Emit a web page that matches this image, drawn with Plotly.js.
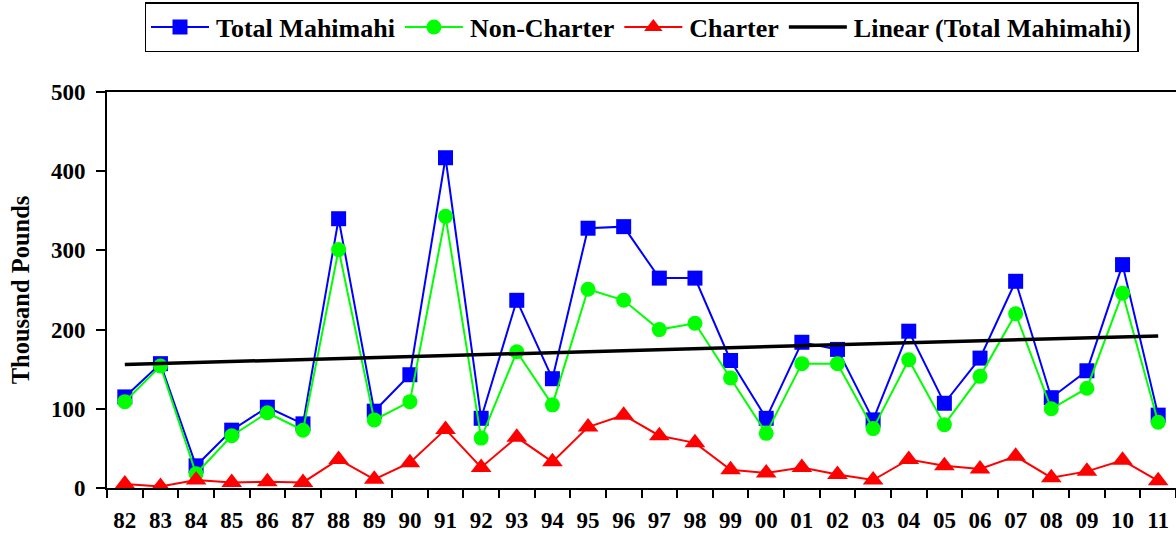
<!DOCTYPE html>
<html>
<head>
<meta charset="utf-8">
<script src="https://cdn.plot.ly/plotly-3.0.1.min.js"></script>
<style>html,body{margin:0;padding:0;background:#fff;}#chart{width:1176px;height:537px;}</style>
</head>
<body>
<div id="chart"></div>
<script>
const years = ["82","83","84","85","86","87","88","89","90","91","92","93","94","95","96","97","98","99","00","01","02","03","04","05","06","07","08","09","10","11"];
const totalMahimahi = [115,157,28,73,102,81,340,97,143,417,88,237,138,328,330,265,265,161,88,184,175,86,198,107,164,261,114,148,282,92];
const nonCharter = [109,154,18,66,95,73,301,86,109,343,63,172,105,251,237,200,208,139,69,157,157,75,162,80,141,220,100,126,246,83];
const charter = [5,2,10,7,8,7,36,11,32,74,26,64,33,77,92,66,57,23,19,26,17,10,36,28,24,40,13,21,35,9];
const trendYears = ["82","11"];
const trendValues = [156,192];

const FAM = "Liberation Serif";
const f = (s) => ({family: FAM, size: s, color: "#000", weight: "bold"});

const traces = [
  {x: years, y: totalMahimahi, name: "Total Mahimahi", type: "scatter", mode: "lines+markers",
   line: {color: "#0000FF", width: 2}, marker: {symbol: "square", size: 15, color: "#0000FF"}},
  {x: years, y: nonCharter, name: "Non-Charter", type: "scatter", mode: "lines+markers",
   line: {color: "#00FF00", width: 2}, marker: {symbol: "circle", size: 15, color: "#00FF00"}},
  {x: years, y: charter, name: "Charter", type: "scatter", mode: "lines+markers",
   line: {color: "#FF0000", width: 2}, marker: {symbol: "triangle-up", size: 18, color: "#FF0000"}},
  {x: trendYears, y: trendValues, name: "Linear (Total Mahimahi)", type: "scatter", mode: "lines",
   line: {color: "#000000", width: 3.5}}
];

const layout = {
  width: 1176, height: 537,
  margin: {l: 107, r: 0, t: 92, b: 49},
  paper_bgcolor: "#fff", plot_bgcolor: "#fff",
  font: f(23),
  showlegend: true,
  legend: {orientation: "h", x: 0.5, xanchor: "center", y: 1.227, yanchor: "top",
           bordercolor: "#000", borderwidth: 1.5, bgcolor: "#fff",
           font: f(26), itemwidth: 60, tracegroupgap: 0},
  xaxis: {type: "category", categoryorder: "array", categoryarray: years,
          range: [-0.5, 29.5], tickson: "boundaries", ticks: "outside", ticklen: 8, tickwidth: 2,
          tickcolor: "#000", showline: true, linecolor: "#000", linewidth: 2, mirror: true,
          showgrid: false, zeroline: false, ticklabelstandoff: 10,
          tickfont: f(23)},
  yaxis: {range: [0, 500], dtick: 100, ticks: "outside", ticklen: 9, tickwidth: 2, tickcolor: "#000",
          showline: true, linecolor: "#000", linewidth: 2, showgrid: false, zeroline: false,
          ticklabelstandoff: 6, tickfont: f(23),
          title: {text: "Thousand Pounds", standoff: 14, font: f(24.5)}}
};

Plotly.newPlot("chart", traces, layout, {displayModeBar: false, staticPlot: true}).then(function (gd) {
  // lengthen legend sample lines like the original chart's legend keys
  gd.querySelectorAll(".legend .traces").forEach(function (tr) {
    tr.querySelectorAll("path.js-line").forEach(function (p) { p.setAttribute("d", "M5,0h58"); });
    tr.querySelectorAll("path.scatterpts").forEach(function (p) { p.setAttribute("transform", "translate(34,0)"); });
  });
});
</script>
</body>
</html>
